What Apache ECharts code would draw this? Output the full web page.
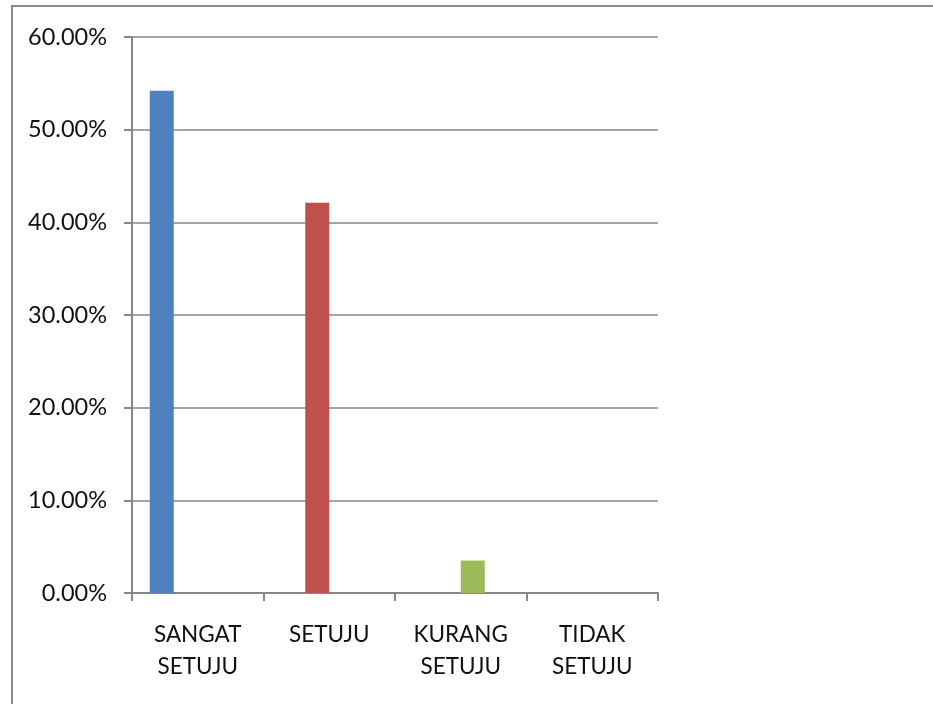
<!DOCTYPE html>
<html>
<head>
<meta charset="utf-8">
<script src="https://cdn.jsdelivr.net/npm/echarts@6/dist/echarts.min.js"></script>
<style>
  html, body { margin: 0; padding: 0; background: #fff; }
  #frame {
    position: absolute; left: 11px; top: 5px; width: 940px; height: 720px;
    border-left: 2px solid #8a8a8a; border-top: 2px solid #8a8a8a;
  }
  #chart { position: absolute; left: 0; top: 0; width: 933px; height: 704px; }
</style>
</head>
<body>
<div id="frame"></div>
<div id="chart"></div>
<script>
  const categories = ['SANGAT\nSETUJU', 'SETUJU', 'KURANG\nSETUJU', 'TIDAK\nSETUJU'];
  const sangatSetuju = [54.2, null, null, null];
  const setuju = [null, 42.1, null, null];
  const kurangSetuju = [null, null, 3.5, null];
  const tidakSetuju = [null, null, null, 0];
  const colors = ['#4F81BD', '#C0504D', '#9BBB59', '#8064A2'];

  const FONT = "Lato, 'Open Sans', sans-serif";
  const AXIS_GRAY = '#878787';

  const mk = (name, data, color) => ({
    name,
    type: 'bar',
    data,
    barWidth: 24,
    barGap: '0%',
    itemStyle: { color },
  });

  const chart = echarts.init(document.getElementById('chart'), null, { renderer: 'canvas' });
  chart.setOption({
    animation: false,
    backgroundColor: 'transparent',
    textStyle: { fontFamily: FONT },
    grid: { left: 132, right: 275, top: 37, bottom: 111, containLabel: false },
    xAxis: {
      type: 'category',
      data: categories,
      axisLine: { lineStyle: { color: AXIS_GRAY, width: 2 } },
      axisTick: { show: true, length: 8, lineStyle: { color: AXIS_GRAY, width: 2 } },
      axisLabel: { color: '#111', fontSize: 22.5, lineHeight: 32, margin: 26, fontFamily: FONT, interval: 0 },
    },
    yAxis: {
      type: 'value',
      min: 0,
      max: 60,
      interval: 10,
      axisLine: { show: true, lineStyle: { color: AXIS_GRAY, width: 2 } },
      axisTick: { show: true, length: 8, lineStyle: { color: AXIS_GRAY, width: 2 } },
      axisLabel: {
        color: '#111', fontSize: 23.5, margin: 25, fontFamily: FONT,
        formatter: (v) => v.toFixed(2) + '%',
      },
      splitLine: { show: true, lineStyle: { color: AXIS_GRAY, width: 1.5 } },
    },
    series: [
      mk('SANGAT SETUJU', sangatSetuju, colors[0]),
      mk('SETUJU', setuju, colors[1]),
      mk('KURANG SETUJU', kurangSetuju, colors[2]),
      mk('TIDAK SETUJU', tidakSetuju, colors[3]),
    ],
  });
</script>
</body>
</html>
